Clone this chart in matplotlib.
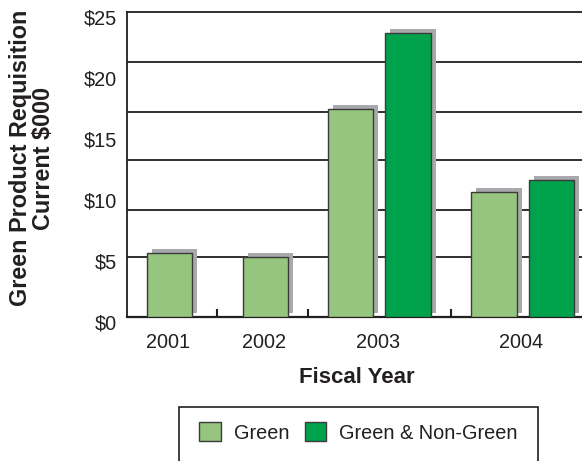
import matplotlib
matplotlib.use("Agg")
import matplotlib.pyplot as plt
import matplotlib.transforms as mtransforms
from matplotlib.patches import Patch, Rectangle
import numpy as np

# data ($000)
YEARS = ["2001", "2002", "2003", "2004"]
GREEN = [5.30, 4.97, 17.05, 10.30]
GREEN_NON_GREEN = [np.nan, np.nan, 23.28, 11.25]
Y_TICKS = [0, 5, 10, 15, 20, 25]

# layout (x axis in pixels measured from the left spine)
GREEN_X = [43.0, 139.0, 224.0, 367.3]
BOTH_X = [None, None, 281.3, 425.0]
LABEL_X = [42.0, 137.5, 251.5, 394.5]
SEP_X = [90.2, 181.2, 324.2]
GRID_Y = [4.93, 8.83, 12.87, 16.85, 20.95]
BAR_W = 45.7

LIGHT = "#95C57E"
DARK = "#00A24C"
EDGE = "#3A3A3A"
SHADOW = "#A8A9AC"
INK = "#231F20"

W, H, DPI = 582, 461, 100
plt.rcParams["font.family"] = ["Liberation Sans", "DejaVu Sans"]

fig = plt.figure(figsize=(W / DPI, H / DPI), dpi=DPI)
fig.patch.set_facecolor("white")
ax = fig.add_axes([126.5 / W, 1 - 317.3 / H, 1 - 126.5 / W, (317.3 - 12.3) / H])

px_per_unit = (317.3 - 12.3) / 25.0
shadow_dx, shadow_dy = 5.0, 4.0 / px_per_unit


def draw_bar(x, v, color):
    ax.add_patch(Rectangle((x - BAR_W / 2 + shadow_dx, shadow_dy), BAR_W, v,
                           facecolor=SHADOW, edgecolor="none", zorder=2))
    ax.bar(x, v, width=BAR_W, color=color, edgecolor=EDGE, linewidth=1.0, zorder=3)


for x, v in zip(GREEN_X, GREEN):
    draw_bar(x, v, LIGHT)
for x, v in zip(BOTH_X, GREEN_NON_GREEN):
    if x is not None and not np.isnan(v):
        draw_bar(x, v, DARK)

for gy in GRID_Y:
    ax.axhline(gy, color=INK, linewidth=1.3, zorder=1)

ax.set_xlim(0, W - 126.5)
ax.set_ylim(0, 25)

ax.spines["right"].set_visible(False)
ax.spines["top"].set_color(INK)
ax.spines["top"].set_linewidth(1.3)
ax.spines["left"].set_color(INK)
ax.spines["left"].set_linewidth(1.3)
ax.spines["bottom"].set_color(INK)
ax.spines["bottom"].set_linewidth(1.6)

ax.set_yticks(Y_TICKS)
ax.set_yticklabels([f"${v}" for v in Y_TICKS])
ax.tick_params(axis="y", length=0, pad=7, labelsize=14.3, labelcolor=INK)
offset = mtransforms.ScaledTranslation(0, -3.5 / 72, fig.dpi_scale_trans)
for lab in ax.get_yticklabels():
    lab.set_transform(lab.get_transform() + offset)

ax.set_xticks(LABEL_X)
ax.set_xticklabels(YEARS)
ax.tick_params(axis="x", which="major", length=0, pad=11, labelsize=14.3, labelcolor=INK)
ax.set_xticks(SEP_X, minor=True)
ax.tick_params(axis="x", which="minor", direction="in", length=5.5, width=1.5, color=INK)

fig.text(356.7 / W, 1 - 377.3 / H, "Fiscal Year", ha="center", va="center",
         fontsize=16, fontweight="bold", color=INK)
fig.text(32.0 / W, 1 - 158.0 / H, "Green Product Requisition\nCurrent $000",
         ha="center", va="center", rotation=90, multialignment="center",
         fontsize=16.8, fontweight="bold", color=INK, linespacing=1.05)

handles = [
    Patch(facecolor=LIGHT, edgecolor=EDGE, linewidth=1.0, label="Green"),
    Patch(facecolor=DARK, edgecolor=EDGE, linewidth=1.0, label="Green & Non-Green"),
]
fig.legend(handles=handles, loc="center", bbox_to_anchor=(358.3 / W, 1 - 432.5 / H),
           ncol=2, frameon=False, fontsize=14.3, handlelength=1.1, handleheight=1.1,
           handletextpad=0.63, columnspacing=0.78, borderpad=0, labelcolor=INK)
fig.patches.append(Rectangle((179.3 / W, -0.1), (537.7 - 179.3) / W, 0.1 + (1 - 406.7 / H),
                             transform=fig.transFigure, facecolor="none", edgecolor=INK,
                             linewidth=1.2, clip_on=False))

fig.savefig("out.png", dpi=DPI)
